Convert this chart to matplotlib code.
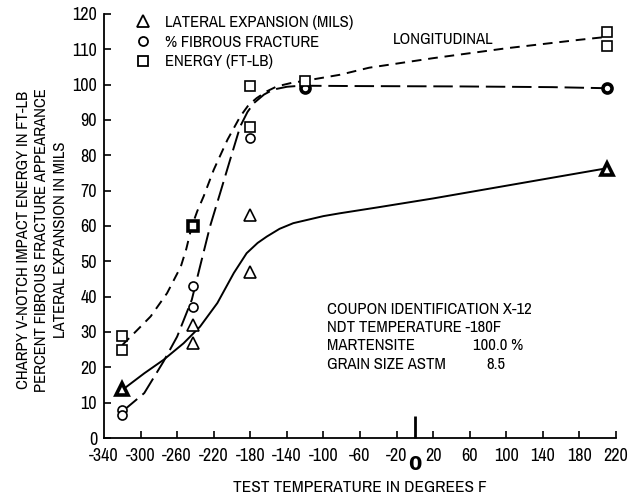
import matplotlib
matplotlib.use("Agg")
import matplotlib.pyplot as plt
from matplotlib.lines import Line2D

plt.rcParams['font.family'] = ['Archivo Narrow', 'DejaVu Sans']

# ---- measured data points ----
lat_x = [-320, -243, -243, -180, -180, 210]
lat_y = [14, 32, 27, 63, 47, 76]
lat_bold = [True, False, False, False, False, True]

fib_x = [-320, -320, -243, -243, -180, -120, 210]
fib_y = [8, 6.5, 43, 37, 85, 99, 99]
fib_bold = [False, False, False, False, False, True, True]

en_x = [-320, -320, -243, -180, -180, -120, 210, 210]
en_y = [29, 25, 60, 99.5, 88, 101, 115, 111]
en_bold = [False, False, True, False, False, False, False, False]

# ---- hand-drawn fit curves ----
en_cx = [-320, -305, -289, -271, -256, -250, -244, -238, -231, -220, -205, -191, -182, -173, -162, -151, -135, -118, -82, -50, 20, 100, 180, 209]
en_cy = [26.3, 30.2, 34.4, 41, 48.5, 53.5, 59.9, 64.2, 68.4, 75.9, 84.4, 91, 94.2, 96.2, 98.1, 99.5, 100.5, 101.2, 102.8, 104.8, 107.5, 110.3, 112.7, 113.5]

fib_cx = [-320, -296, -275, -260, -244, -235, -224, -213, -202, -191, -183, -176, -165, -155, -140, -125, -60, 50, 150, 209]
fib_cy = [7.5, 12.7, 21.6, 28.7, 39.1, 48.5, 59.9, 69.3, 78.8, 88.2, 92.3, 94.8, 97.2, 98.6, 99.4, 99.7, 99.6, 99.5, 99.3, 99]

lat_cx = [-320, -296, -275, -253, -235, -216, -198, -184, -172, -162, -148, -133, -100, -82, -40, 20, 80, 140, 209]
lat_cy = [13.6, 18.3, 22.1, 26.8, 31.5, 38.2, 46.7, 52.3, 55.2, 57, 59.2, 60.8, 62.8, 63.6, 65.3, 67.8, 70.5, 73.2, 76.3]

xticks = [-340, -300, -260, -220, -180, -140, -100, -60, -20, 0, 20, 60, 100, 140, 180, 220]
xticklabels = ['-340', '-300', '-260', '-220', '-180', '-140', '-100', '-60', '-20', '', '20', '60', '100', '140', '180', '220']
yticks = list(range(0, 121, 10))

legend_labels = ['LATERAL EXPANSION (MILS)', '% FIBROUS FRACTURE', 'ENERGY (FT-LB)']

fig = plt.figure(figsize=(6.35, 4.98), dpi=100)
ax = fig.add_axes([104/635, 60/498, 512/635, 424/498])

lw = 1.4
ax.plot(en_cx, en_cy, color='black', lw=lw, dashes=(5, 3.5))
ax.plot(fib_cx, fib_cy, color='black', lw=lw, dashes=(10, 3.5))
ax.plot(lat_cx, lat_cy, color='black', lw=lw)

def draw_points(xs, ys, bold, marker, ms):
    for x, y, b in zip(xs, ys, bold):
        ax.plot([x], [y], linestyle='none', marker=marker, ms=ms,
                mfc='white', mec='black', mew=2.6 if b else 1.2, zorder=5)

draw_points(lat_x, lat_y, lat_bold, '^', 8.5)
draw_points(fib_x, fib_y, fib_bold, 'o', 6.5)
draw_points(en_x, en_y, en_bold, 's', 6.5)

ax.set_xlim(-340, 220)
ax.set_ylim(0, 120)
for s in ['top', 'right']:
    ax.spines[s].set_visible(False)
for s in ['left', 'bottom']:
    ax.spines[s].set_linewidth(1.3)

ax.set_xticks(xticks)
ax.set_xticklabels(xticklabels)
ax.set_yticks(yticks)
ax.tick_params(axis='both', direction='in', length=5, width=1.2, labelsize=13)
ax.tick_params(axis='x', pad=7)
ax.tick_params(axis='y', pad=5)
for t, loc in zip(ax.xaxis.get_major_ticks(), xticks):
    if loc == 0:
        t.tick1line.set_markersize(16)
        t.tick1line.set_markeredgewidth(2)
    if loc == -340:
        t.tick1line.set_visible(False)
ax.text(0, -4.8, '0', ha='center', va='top', fontsize=14, fontweight='bold',
        family=['DejaVu Sans'])

ax.set_xlabel('TEST TEMPERATURE IN DEGREES F', fontsize=12.5, labelpad=12)
fig.text(42/635, 1 - 240/498,
         'CHARPY V-NOTCH IMPACT ENERGY IN FT-LB\nPERCENT FIBROUS FRACTURE APPEARANCE\nLATERAL EXPANSION IN MILS',
         rotation=90, ha='center', va='center', fontsize=12, linespacing=1.3, multialignment='center')

handles = [Line2D([], [], linestyle='none', marker='^', ms=8.5, mfc='white', mec='black', mew=1.3),
           Line2D([], [], linestyle='none', marker='o', ms=6.5, mfc='white', mec='black', mew=1.3),
           Line2D([], [], linestyle='none', marker='s', ms=6.5, mfc='white', mec='black', mew=1.3)]
ax.legend(handles, legend_labels, loc='upper left', bbox_to_anchor=(0.037, 1.025), frameon=False,
          fontsize=12, handlelength=1.0, handletextpad=0.8, labelspacing=0.28, borderpad=0.2)

ax.text(-24, 112.7, 'LONGITUDINAL', fontsize=12, ha='left', va='center')
info_y = [36.3, 31.2, 26.1, 20.7]
ax.text(-96, info_y[0], 'COUPON IDENTIFICATION X-12', fontsize=12, ha='left', va='center')
ax.text(-96, info_y[1], 'NDT TEMPERATURE -180F', fontsize=12, ha='left', va='center')
ax.text(-96, info_y[2], 'MARTENSITE', fontsize=12, ha='left', va='center')
ax.text(64, info_y[2], '100.0 %', fontsize=12, ha='left', va='center')
ax.text(-96, info_y[3], 'GRAIN SIZE ASTM', fontsize=12, ha='left', va='center')
ax.text(78, info_y[3], '8.5', fontsize=12, ha='left', va='center')

fig.savefig('out.png', dpi=100)
